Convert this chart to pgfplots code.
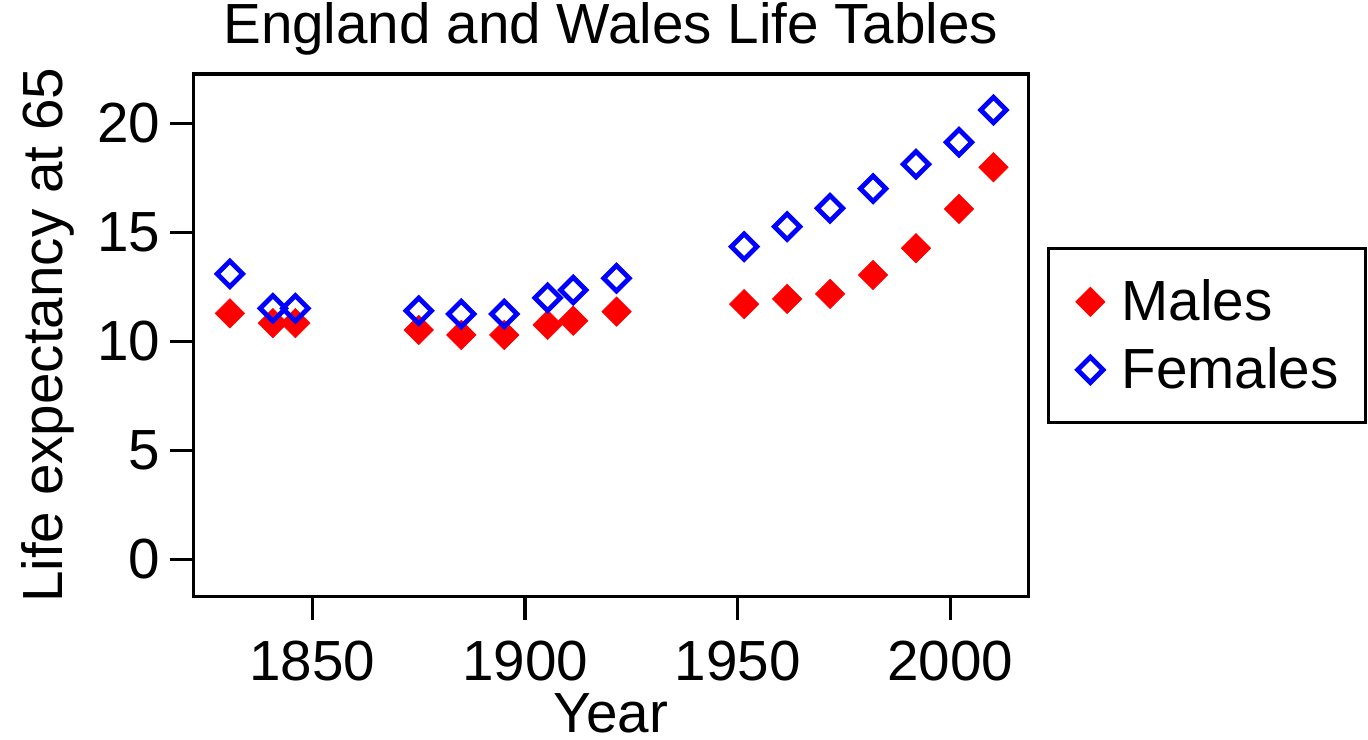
\documentclass[border=0pt]{standalone}
\usepackage{fontspec}
\setmainfont{Liberation Sans}
\usepackage{pgfplots}
\pgfplotsset{compat=1.18}
\definecolor{mred}{RGB}{255,0,0}
\definecolor{mblue}{RGB}{0,0,255}
\begin{document}
\begin{tikzpicture}
\useasboundingbox (-96.65pt,-71.15pt) rectangle (587.35pt,298.35pt);
\begin{axis}[
  at={(0,0)}, anchor=south west,
  scale only axis, width=417.5pt, height=261.35pt,
  xmin=1822, xmax=2018.3, ymin=-1.72, ymax=22.26,
  font=\fontsize{28.3}{34}\selectfont,
  /pgf/number format/assume math mode=true,
  /pgf/number format/1000 sep={},
  xtick={1850,1900,1950,2000}, ytick={0,5,10,15,20},
  xtick pos=lower, ytick pos=left,
  tick align=outside, major tick length=11.5pt,
  axis line style={line width=1.6pt},
  every tick/.style={line width=1.6pt, black},
  xticklabel style={anchor=base, yshift=-30.5pt},
  yticklabel style={anchor=east, xshift=-1.5pt},
  title={England and Wales Life Tables},
  title style={at={(axis description cs:0.5,1)}, anchor=base, yshift=9.5pt},
  xlabel={Year},
  xlabel style={at={(axis description cs:0.5,0)}, anchor=base, yshift=-68pt},
  ylabel={Life expectancy at 65},
  ylabel style={at={(axis description cs:-0.174,0.5)}, anchor=center, rotate=0},
  legend style={at={(axis description cs:1.0228,0.6685)}, anchor=north west,
    draw=black, line width=1.5pt, inner xsep=8pt, inner ysep=13.5pt, row sep=8pt,
    font=\fontsize{28.3}{34}\selectfont},
  legend cell align=left,
  legend image code/.code={\draw[#1] plot coordinates {(0pt,0pt)};
    \path (-12pt,0pt) (12.9pt,0pt);},
]
\addplot[only marks, mark=square*, mark size=5.2pt,
  mark options={rotate=45, fill=mred, draw=mred, line width=0.3pt}]
coordinates {
(1830.6,11.28) (1840.7,10.83) (1846,10.83) (1875,10.52) (1885,10.29)
(1895.1,10.29) (1905.3,10.75) (1911.3,10.94) (1921.5,11.36) (1951.5,11.70)
(1961.6,11.94) (1971.7,12.17) (1981.8,13.04) (1991.9,14.27) (2002,16.07)
(2010.1,17.98)
};
\addlegendentry{Males}
\addplot[only marks, mark=square, mark size=4.5pt,
  mark options={rotate=45, draw=mblue, line width=2.4pt}]
coordinates {
(1830.6,13.09) (1840.7,11.51) (1846,11.51) (1875,11.40) (1885,11.25)
(1895.1,11.25) (1905.3,11.99) (1911.3,12.35) (1921.5,12.89) (1951.5,14.34)
(1961.6,15.26) (1971.7,16.10) (1981.8,17.00) (1991.9,18.12) (2002,19.13)
(2010.1,20.61)
};
\addlegendentry{Females\kern3.5pt}
\end{axis}
\end{tikzpicture}
\end{document}
